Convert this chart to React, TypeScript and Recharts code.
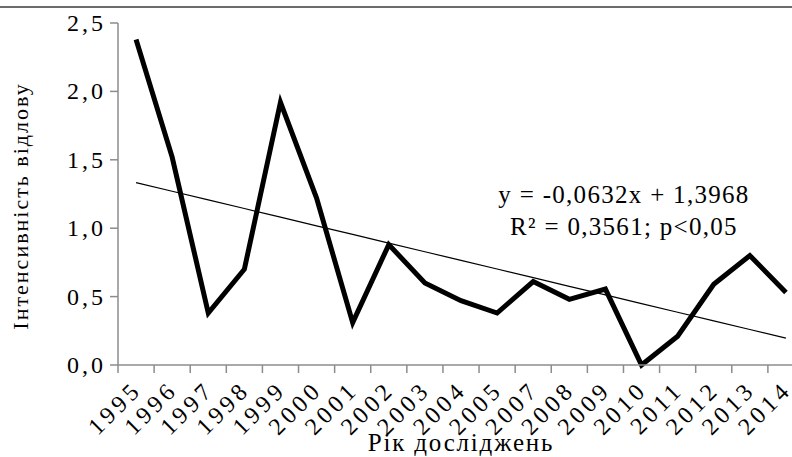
import {Line, LineChart, XAxis, YAxis, Label} from 'recharts';

const years = [
  '1995', '1996', '1997', '1998', '1999', '2000', '2001', '2002', '2003', '2004',
  '2005', '2007', '2008', '2009', '2010', '2011', '2012', '2013', '2014',
];
const intensity = [
  2.38, 1.52, 0.38, 0.7, 1.92, 1.22, 0.31, 0.88, 0.6, 0.47,
  0.38, 0.61, 0.48, 0.555, 0.0, 0.21, 0.59, 0.8, 0.53,
];
const yTicks = [0, 0.5, 1, 1.5, 2, 2.5];

// linear trend as printed on the chart: y = -0,0632x + 1,3968
const trendSlope = -0.0632;
const trendIntercept = 1.3968;

const chartData = years.map((year, i) => ({
  year,
  value: intensity[i],
  trend: trendSlope * (i + 1) + trendIntercept,
}));

const FONT = 'Liberation Serif, DejaVu Serif, Times New Roman, serif';
const AXIS = '#8c8c8c';

const CHART_W = 804;
const Y_AXIS_W = 118;
const BAND = (CHART_W - Y_AXIS_W) / years.length;

const fmt = (v: number) => v.toFixed(1).replace('.', ',');

function YearTick({x, y, payload}: any) {
  const left = x - BAND / 2;
  const tx = x + 7;
  const ty = y + 16;
  return (
    <g>
      <line x1={left} y1={y - 10} x2={left} y2={y - 2} stroke={AXIS} strokeWidth={1.5} />
      <text
        x={tx}
        y={ty}
        transform={`rotate(-45 ${tx} ${ty})`}
        textAnchor="end"
        fontFamily={FONT}
        fontSize={24}
        letterSpacing={4}
        fill="#000"
      >
        {payload.value}
      </text>
    </g>
  );
}

function ValueTick({x, y, payload}: any) {
  return (
    <text
      x={x + 2}
      y={y}
      dy={8}
      textAnchor="end"
      fontFamily={FONT}
      fontSize={24}
      letterSpacing={3}
      fill="#000"
    >
      {fmt(payload.value)}
    </text>
  );
}

export default function App() {
  return (
    <div
      style={{
        position: 'fixed',
        left: 0,
        top: 0,
        width: 792,
        height: 457,
        overflow: 'hidden',
        background: '#fff',
      }}
    >
      <div
        style={{
          position: 'absolute',
          left: 0,
          top: 6,
          width: 792,
          height: 0,
          borderTop: '2px solid #6b6b6b',
        }}
      />
      <div style={{position: 'absolute', left: 0, top: 0}}>
        <LineChart
          width={CHART_W}
          height={457}
          data={chartData}
          margin={{top: 23, right: 0, bottom: 0, left: 0}}
        >
          <XAxis
            dataKey="year"
            scale="band"
            height={92}
            interval={0}
            axisLine={{stroke: AXIS, strokeWidth: 1.5}}
            tickLine={false}
            tickSize={8}
            tick={<YearTick />}
          >
            <Label
              value="Рік досліджень"
              position="insideBottom"
              offset={6}
              style={{fontFamily: FONT, fontSize: 25, letterSpacing: 1.8, fill: '#000'}}
            />
          </XAxis>
          <YAxis
            width={Y_AXIS_W}
            domain={[0, 2.5]}
            ticks={yTicks}
            axisLine={{stroke: AXIS, strokeWidth: 1.5}}
            tickLine={{stroke: AXIS, strokeWidth: 1.5}}
            tickSize={8}
            tickMargin={6}
            tick={<ValueTick />}
          />
          <text
            x={28}
            y={206}
            transform="rotate(-90 28 206)"
            textAnchor="middle"
            fontFamily={FONT}
            fontSize={22}
            letterSpacing={2}
            fill="#000"
          >
            Інтенсивність відлову
          </text>
          <Line
            type="linear"
            dataKey="trend"
            stroke="#000"
            strokeWidth={1.2}
            dot={false}
            activeDot={false}
            isAnimationActive={false}
          />
          <Line
            type="linear"
            dataKey="value"
            stroke="#000"
            strokeWidth={5}
            dot={false}
            activeDot={false}
            isAnimationActive={false}
          />
          <text
            x={624}
            y={203}
            textAnchor="middle"
            fontFamily={FONT}
            fontSize={25}
            letterSpacing={1.3}
            fill="#000"
          >
            y = -0,0632x + 1,3968
          </text>
          <text
            x={624}
            y={235}
            textAnchor="middle"
            fontFamily={FONT}
            fontSize={25}
            letterSpacing={1.3}
            fill="#000"
          >
            R² = 0,3561; p&lt;0,05
          </text>
        </LineChart>
      </div>
    </div>
  );
}
